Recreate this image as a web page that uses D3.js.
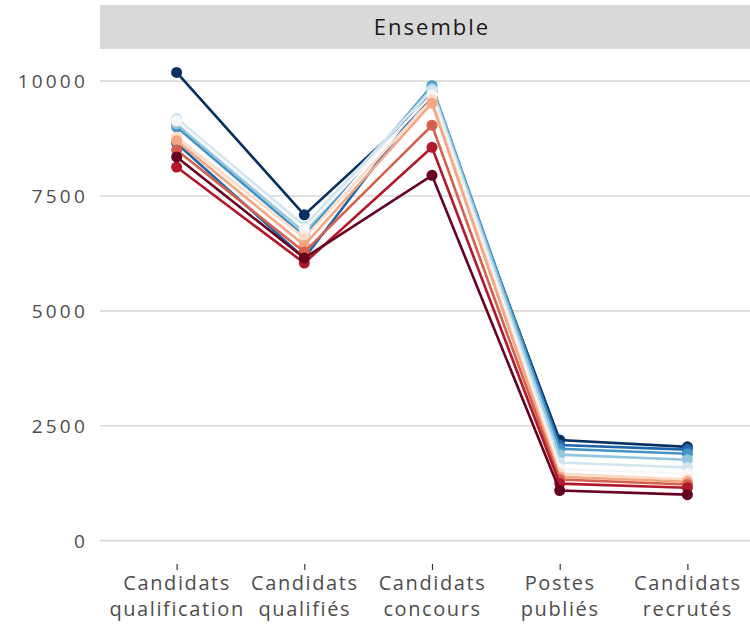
<!DOCTYPE html>
<html lang="fr">
<head>
  <meta charset="UTF-8">
  <title>Ensemble</title>
  <script src="https://d3js.org/d3.v7.min.js"></script>
  <style>
    body, html {
      margin: 0;
      padding: 0;
      background: #fff;
    }
    svg {
      display: block;
    }
    .axis-label {
      font-family: "Open Sans", sans-serif;
      fill: #4d4d4d;
    }
    .strip-text {
      font-family: "Open Sans", sans-serif;
      font-size: 22px;
      letter-spacing: 2px;
      fill: #1a1a1a;
    }
  </style>
</head>
<body>
  <div id="chart"></div>

  <script>
    // Étapes (catégories de l'axe x)
    const etapes = ["Candidats qualification", "Candidats qualifiés", "Candidats concours", "Postes publiés", "Candidats recrutés"];
    const etapeLignes = [["Candidats", "qualification"], ["Candidats", "qualifiés"], ["Candidats", "concours"], ["Postes", "publiés"], ["Candidats", "recrutés"]];

    // Séries (une par session), du bleu foncé au rouge foncé
    const sessions = ["2010", "2011", "2012", "2013", "2014", "2015", "2016", "2017", "2018", "2019", "2020"];
    const couleurs = ["#053061", "#2166ac", "#4393c3", "#92c5de", "#d1e5f0", "#f7f7f7", "#fddbc7", "#f4a582", "#d6604d", "#b2182b", "#67001f"];

    // valeurs par étape, dans l'ordre des sessions
    const candidatsQualification = [10190, 8650, 9000, 9070, 9190, 9130, 8780, 8700, 8500, 8130, 8350];
    const candidatsQualifies     = [7090, 6150, 6630, 6720, 6850, 6780, 6590, 6430, 6280, 6040, 6150];
    const candidatsConcours      = [9650, 9780, 9900, 9850, 9800, 9700, 9600, 9520, 9040, 8560, 7950];
    const postesPublies          = [2190, 2080, 2000, 1870, 1700, 1560, 1460, 1390, 1330, 1240, 1090];
    const candidatsRecrutes      = [2040, 1980, 1890, 1760, 1590, 1460, 1330, 1280, 1220, 1150, 1000];

    const yTicks = [0, 2500, 5000, 7500, 10000];

    const valeurs = [candidatsQualification, candidatsQualifies, candidatsConcours, postesPublies, candidatsRecrutes];
    const series = sessions.map((s, i) => ({
      session: s,
      color: couleurs[i],
      points: etapes.map((e, j) => ({ etape: e, value: valeurs[j][i] }))
    }));

    const width = 750;
    const height = 632;
    // the panel runs a bit past the right edge of the picture
    const panel = { left: 100, right: 764, top: 49, bottom: 564 };
    const strip = { top: 5, bottom: 49 };

    const svg = d3.select("#chart")
      .append("svg")
      .attr("width", width)
      .attr("height", height);

    // ggplot-like scales: discrete expansion 0.6, continuous 5%
    const x = d3.scalePoint()
      .domain(etapes)
      .range([panel.left, panel.right])
      .padding(0.6);

    const maxVal = d3.max(valeurs.flat());
    const ext = maxVal * 0.05;
    const y = d3.scaleLinear()
      .domain([-ext, maxVal + ext])
      .range([panel.bottom, panel.top]);

    // strip
    svg.append("rect")
      .attr("x", panel.left)
      .attr("y", strip.top)
      .attr("width", panel.right - panel.left)
      .attr("height", strip.bottom - strip.top)
      .attr("fill", "#d9d9d9");

    svg.append("text")
      .attr("class", "strip-text")
      .attr("x", (panel.left + panel.right) / 2)
      .attr("y", (strip.top + strip.bottom) / 2)
      .attr("dy", "0.36em")
      .attr("text-anchor", "middle")
      .text("Ensemble");

    // gridlines
    svg.append("g")
      .selectAll("line")
      .data(yTicks)
      .join("line")
      .attr("x1", panel.left)
      .attr("x2", panel.right)
      .attr("y1", d => y(d))
      .attr("y2", d => y(d))
      .attr("stroke", "#d9d9d9")
      .attr("stroke-width", 1.6);

    // y axis labels
    const yAxis = svg.append("g")
      .attr("transform", `translate(${panel.left},0)`)
      .call(d3.axisLeft(y).tickValues(yTicks).tickSize(0).tickPadding(12).tickFormat(d3.format("d")));
    yAxis.select(".domain").remove();
    yAxis.selectAll("text")
      .attr("class", "axis-label")
      .style("font-size", "19px")
      .style("letter-spacing", "3.2px")
      .attr("dy", "0.36em");

    // x axis
    const xAxis = svg.append("g")
      .attr("transform", `translate(0,${panel.bottom})`)
      .call(d3.axisBottom(x).tickSize(6).tickFormat(""));
    xAxis.select(".domain").remove();
    xAxis.selectAll(".tick line")
      .attr("stroke", "#333")
      .attr("stroke-width", 1.2);

    xAxis.selectAll(".tick")
      .append("text")
      .attr("class", "axis-label")
      .attr("text-anchor", "middle")
      .style("font-size", "20px")
      .style("letter-spacing", "1.6px")
      .selectAll("tspan")
      .data((d, i) => etapeLignes[i])
      .join("tspan")
      .attr("x", 0)
      .attr("y", (d, i) => 26 + i * 26)
      .text(d => d);

    // lines and points
    const line = d3.line()
      .x(d => x(d.etape))
      .y(d => y(d.value));

    const g = svg.append("g");
    const groups = g.selectAll("g.serie")
      .data(series)
      .join("g")
      .attr("class", "serie");

    groups.append("path")
      .attr("d", d => line(d.points))
      .attr("fill", "none")
      .attr("stroke", d => d.color)
      .attr("stroke-width", 2.6);

    groups.selectAll("circle")
      .data(d => d.points.map(p => ({ ...p, color: d.color })))
      .join("circle")
      .attr("cx", d => x(d.etape))
      .attr("cy", d => y(d.value))
      .attr("r", 5.5)
      .attr("fill", d => d.color);
  </script>
</body>
</html>
